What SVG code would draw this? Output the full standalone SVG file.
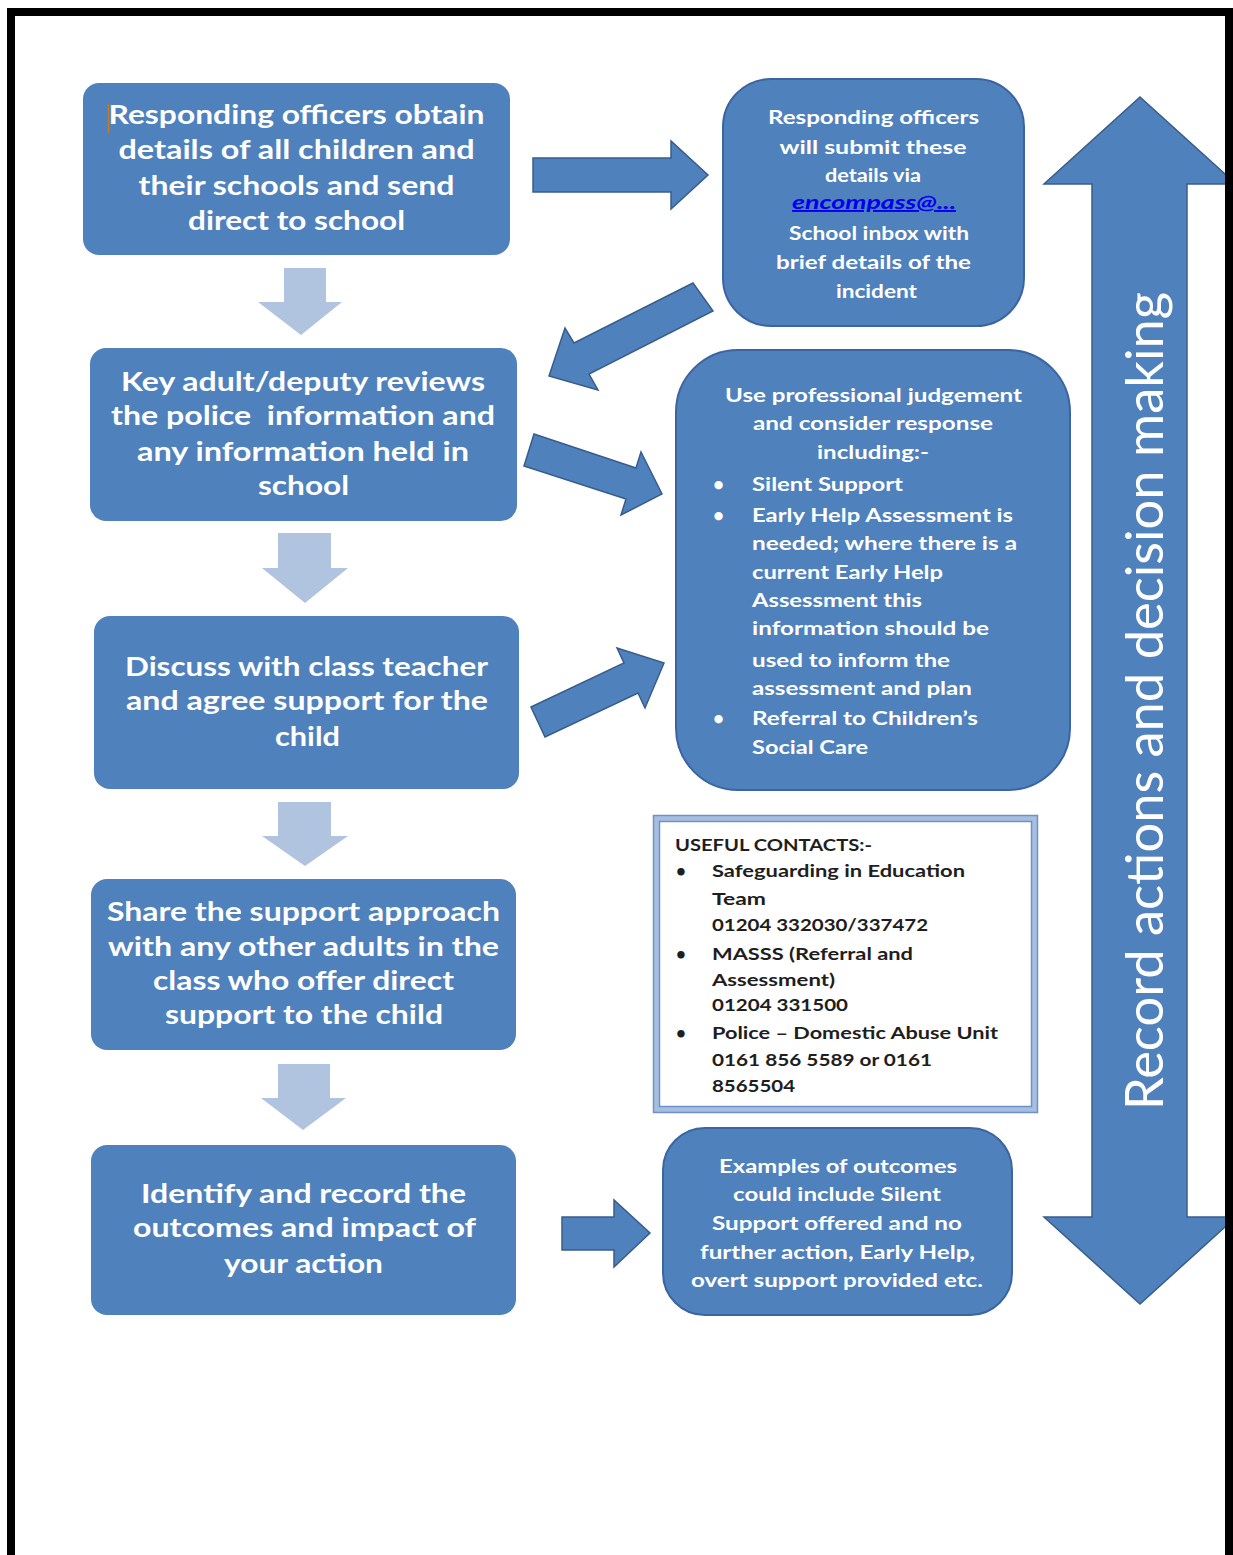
<svg xmlns="http://www.w3.org/2000/svg" width="1233" height="1555" viewBox="0 0 1233 1555">
<style>
.box{fill:#4F81BD}
.rbox{fill:#4F81BD;stroke:#3B64A0;stroke-width:2}
.arrow{fill:#4F81BD;stroke:#385D8A;stroke-width:1.5;stroke-linejoin:miter}
.light{fill:#B0C3DF}
.big{font-family:Lato,"Liberation Sans",sans-serif;font-weight:bold;font-size:26px;fill:#FFFFFF;text-anchor:middle}
.mid{font-family:Lato,"Liberation Sans",sans-serif;font-weight:bold;font-size:19px;fill:#FFFFFF;text-anchor:middle}
.lst{font-family:Lato,"Liberation Sans",sans-serif;font-weight:bold;font-size:19px;fill:#FFFFFF}
.link{fill:#0000EE;font-style:italic;text-decoration:underline}
.con{font-family:Lato,"Liberation Sans",sans-serif;font-weight:bold;font-size:17px;fill:#1E1E1E}
.vert{font-family:Lato,"Liberation Sans",sans-serif;font-size:52px;fill:#FFFFFF;text-anchor:middle}
</style>

<g id="connectors">
  <polygon class="arrow" points="533,158 671,158 671,141 708,175 671,209 671,192 533,192"/>
  <polygon class="arrow" points="693,283 574,343 565,328 549,376 598,390 589,374 713,311"/>
  <polygon class="arrow" points="534,434 636,468 641,452 662,494 621,515 626,499 524,466"/>
  <polygon class="arrow" points="531,707 624,663 617,648 664,663 645,708 638,693 545,737"/>
  <polygon class="arrow" points="562,1217 614,1217 614,1200 650,1233 614,1267 614,1250 562,1250"/>
  <polygon class="light" points="284,268 326,268 326,302 342,302 301,335 258,302 284,302"/>
  <polygon class="light" points="278,533 331,533 331,568 348,568 305,603 262,568 278,568"/>
  <polygon class="light" points="278,802 331,802 331,836 348,836 305,866 262,836 278,836"/>
  <polygon class="light" points="278,1064 330,1064 330,1098 346,1098 303,1130 261,1098 278,1098"/>
</g>

<g id="record-arrow">
  <polygon class="arrow" points="1140,97 1236,184 1187,184 1187,1217 1236,1217 1140,1304 1044,1217 1092,1217 1092,184 1044,184"/>
  <text class="vert" transform="translate(1163,701) rotate(-90)" textLength="818" lengthAdjust="spacingAndGlyphs">Record actions and decision making</text>
</g>

<g id="node-obtain">
  <rect class="box" x="83" y="83" width="427" height="172" rx="16"/>
  <line x1="108.5" y1="104" x2="108.5" y2="133" stroke="#C07A2A" stroke-width="1.5"/>
  <text class="big" x="296.5" y="124" textLength="376" lengthAdjust="spacingAndGlyphs">Responding officers obtain</text>
  <text class="big" x="296.5" y="159" textLength="356" lengthAdjust="spacingAndGlyphs">details of all children and</text>
  <text class="big" x="296.5" y="195" textLength="316" lengthAdjust="spacingAndGlyphs">their schools and send</text>
  <text class="big" x="296.5" y="230" textLength="217" lengthAdjust="spacingAndGlyphs">direct to school</text>
</g>

<g id="node-submit">
  <rect class="rbox" x="723" y="79" width="301" height="247" rx="48"/>
  <text class="mid" x="873.5" y="124" textLength="211" lengthAdjust="spacingAndGlyphs">Responding officers</text>
  <text class="mid" x="873" y="154" textLength="187" lengthAdjust="spacingAndGlyphs">will submit these</text>
  <text class="mid" x="873" y="182" textLength="96" lengthAdjust="spacingAndGlyphs">details via</text>
  <text class="mid link" x="874" y="209" textLength="164" lengthAdjust="spacingAndGlyphs">encompass@...</text>
  <text class="mid" x="879" y="240" textLength="180" lengthAdjust="spacingAndGlyphs">School inbox with</text>
  <text class="mid" x="873.5" y="269" textLength="195" lengthAdjust="spacingAndGlyphs">brief details of the</text>
  <text class="mid" x="876.5" y="298" textLength="81" lengthAdjust="spacingAndGlyphs">incident</text>
</g>

<g id="node-review">
  <rect class="box" x="90" y="348" width="427" height="173" rx="16"/>
  <text class="big" x="303" y="391" textLength="364" lengthAdjust="spacingAndGlyphs">Key adult/deputy reviews</text>
  <text class="big" x="303" y="425" textLength="384" lengthAdjust="spacingAndGlyphs">the police&#160; information and</text>
  <text class="big" x="303" y="461" textLength="332" lengthAdjust="spacingAndGlyphs">any information held in</text>
  <text class="big" x="303.5" y="495" textLength="91" lengthAdjust="spacingAndGlyphs">school</text>
</g>

<g id="node-judgement">
  <rect class="rbox" x="676" y="350" width="394" height="440" rx="62"/>
  <text class="mid" x="873.5" y="402" textLength="297" lengthAdjust="spacingAndGlyphs">Use professional judgement</text>
  <text class="mid" x="873" y="430" textLength="240" lengthAdjust="spacingAndGlyphs">and consider response</text>
  <text class="mid" x="873" y="459" textLength="112" lengthAdjust="spacingAndGlyphs">including:-</text>
  <text class="lst" x="713" y="491">•</text>
  <text class="lst" x="752" y="491" textLength="151" lengthAdjust="spacingAndGlyphs">Silent Support</text>
  <text class="lst" x="713" y="522">•</text>
  <text class="lst" x="752" y="522" textLength="261" lengthAdjust="spacingAndGlyphs">Early Help Assessment is</text>
  <text class="lst" x="752" y="550" textLength="265" lengthAdjust="spacingAndGlyphs">needed; where there is a</text>
  <text class="lst" x="752" y="579" textLength="191" lengthAdjust="spacingAndGlyphs">current Early Help</text>
  <text class="lst" x="752" y="607" textLength="170" lengthAdjust="spacingAndGlyphs">Assessment this</text>
  <text class="lst" x="752" y="635" textLength="237" lengthAdjust="spacingAndGlyphs">information should be</text>
  <text class="lst" x="752" y="667" textLength="198" lengthAdjust="spacingAndGlyphs">used to inform the</text>
  <text class="lst" x="752" y="695" textLength="220" lengthAdjust="spacingAndGlyphs">assessment and plan</text>
  <text class="lst" x="713" y="725">•</text>
  <text class="lst" x="752" y="725" textLength="226" lengthAdjust="spacingAndGlyphs">Referral to Children’s</text>
  <text class="lst" x="752" y="754" textLength="116" lengthAdjust="spacingAndGlyphs">Social Care</text>
</g>

<g id="node-discuss">
  <rect class="box" x="94" y="616" width="425" height="173" rx="16"/>
  <text class="big" x="306.5" y="676" textLength="363" lengthAdjust="spacingAndGlyphs">Discuss with class teacher</text>
  <text class="big" x="307" y="710" textLength="362" lengthAdjust="spacingAndGlyphs">and agree support for the</text>
  <text class="big" x="307.5" y="746" textLength="65" lengthAdjust="spacingAndGlyphs">child</text>
</g>

<g id="node-contacts">
  <rect x="656.5" y="818.5" width="378" height="291" fill="#FFFFFF" stroke="#A7BEE0" stroke-width="6"/>
  <rect x="653.5" y="815.5" width="384" height="297" fill="none" stroke="#6F92C6" stroke-width="1.5"/>
  <rect x="659.5" y="821.5" width="372" height="285" fill="none" stroke="#6F92C6" stroke-width="1.5"/>
  <text class="con" x="675" y="851" textLength="197" lengthAdjust="spacingAndGlyphs">USEFUL CONTACTS:-</text>
  <text class="con" x="676" y="877">•</text>
  <text class="con" x="712" y="877" textLength="253" lengthAdjust="spacingAndGlyphs">Safeguarding in Education</text>
  <text class="con" x="712" y="905" textLength="54" lengthAdjust="spacingAndGlyphs">Team</text>
  <text class="con" x="712" y="931" textLength="216" lengthAdjust="spacingAndGlyphs">01204 332030/337472</text>
  <text class="con" x="676" y="960">•</text>
  <text class="con" x="712" y="960" textLength="201" lengthAdjust="spacingAndGlyphs">MASSS (Referral and</text>
  <text class="con" x="712" y="986" textLength="123" lengthAdjust="spacingAndGlyphs">Assessment)</text>
  <text class="con" x="712" y="1011" textLength="136" lengthAdjust="spacingAndGlyphs">01204 331500</text>
  <text class="con" x="676" y="1039">•</text>
  <text class="con" x="712" y="1039" textLength="286" lengthAdjust="spacingAndGlyphs">Police – Domestic Abuse Unit</text>
  <text class="con" x="712" y="1066" textLength="220" lengthAdjust="spacingAndGlyphs">0161 856 5589 or 0161</text>
  <text class="con" x="712" y="1092" textLength="83" lengthAdjust="spacingAndGlyphs">8565504</text>
</g>

<g id="node-share">
  <rect class="box" x="91" y="879" width="425" height="171" rx="16"/>
  <text class="big" x="303.5" y="921" textLength="393" lengthAdjust="spacingAndGlyphs">Share the support approach</text>
  <text class="big" x="303.5" y="956" textLength="391" lengthAdjust="spacingAndGlyphs">with any other adults in the</text>
  <text class="big" x="303.5" y="990" textLength="301" lengthAdjust="spacingAndGlyphs">class who offer direct</text>
  <text class="big" x="304" y="1024" textLength="278" lengthAdjust="spacingAndGlyphs">support to the child</text>
</g>

<g id="node-identify">
  <rect class="box" x="91" y="1145" width="425" height="170" rx="16"/>
  <text class="big" x="303.5" y="1203" textLength="325" lengthAdjust="spacingAndGlyphs">Identify and record the</text>
  <text class="big" x="304.5" y="1237" textLength="343" lengthAdjust="spacingAndGlyphs">outcomes and impact of</text>
  <text class="big" x="303.5" y="1273" textLength="159" lengthAdjust="spacingAndGlyphs">your action</text>
</g>

<g id="node-outcomes">
  <rect class="rbox" x="663" y="1128" width="349" height="187" rx="42"/>
  <text class="mid" x="838" y="1173" textLength="238" lengthAdjust="spacingAndGlyphs">Examples of outcomes</text>
  <text class="mid" x="837" y="1201" textLength="208" lengthAdjust="spacingAndGlyphs">could include Silent</text>
  <text class="mid" x="837" y="1230" textLength="250" lengthAdjust="spacingAndGlyphs">Support offered and no</text>
  <text class="mid" x="837.5" y="1259" textLength="275" lengthAdjust="spacingAndGlyphs">further action, Early Help,</text>
  <text class="mid" x="837" y="1287" textLength="292" lengthAdjust="spacingAndGlyphs">overt support provided etc.</text>
</g>

<g id="frame" fill="#000000">
  <rect x="7" y="8" width="8" height="1547"/>
  <rect x="7" y="8" width="1226" height="8"/>
  <rect x="1225" y="8" width="8" height="1547"/>
</g>
</svg>
